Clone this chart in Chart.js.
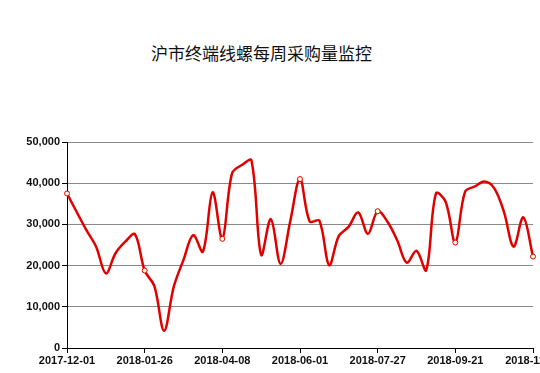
<!DOCTYPE html>
<html>
<head>
<meta charset="utf-8">
<script src="https://cdn.jsdelivr.net/npm/chart.js@4"></script>
<style>
  html, body { margin: 0; padding: 0; background: #fff; overflow: hidden; }
  #wrap { position: relative; width: 540px; height: 373px; overflow: hidden; }
  #title {
    position: absolute; left: 0; top: 42px; width: 523px; text-align: center;
    font: 17px "Noto Sans CJK SC", sans-serif; color: #111; line-height: 22px;
  }
  #myChart { position: absolute; left: 0; top: 0; }
</style>
</head>
<body>
<div id="wrap">
  <div id="title">沪市终端线螺每周采购量监控</div>
  <canvas id="myChart" width="562" height="373"></canvas>
</div>
<script>
// weekly dates (only every 8th one is labelled on the axis)
const weeks = [
  '2017-12-01', '2017-12-08', '2017-12-15', '2017-12-22', '2017-12-29', '2018-01-05', '2018-01-12', '2018-01-19',
  '2018-01-26', '2018-02-02', '2018-02-09', '2018-03-02', '2018-03-09', '2018-03-16', '2018-03-23', '2018-03-30',
  '2018-04-08', '2018-04-13', '2018-04-20', '2018-04-27', '2018-05-04', '2018-05-11', '2018-05-18', '2018-05-25',
  '2018-06-01', '2018-06-08', '2018-06-15', '2018-06-22', '2018-06-29', '2018-07-06', '2018-07-13', '2018-07-20',
  '2018-07-27', '2018-08-03', '2018-08-10', '2018-08-17', '2018-08-24', '2018-08-31', '2018-09-07', '2018-09-14',
  '2018-09-21', '2018-09-28', '2018-10-05', '2018-10-12', '2018-10-19', '2018-10-26', '2018-11-02', '2018-11-09',
  '2018-11-16',
]

// purchase volume per week
const volume = [
  37500, 33000, 28600, 24600, 18100, 23000, 25800, 27600,
  18800, 15000, 4200, 14900, 21400, 27400, 23400, 37800,
  26500, 42400, 44400, 45500, 22600, 31300, 20400, 30800,
  41000, 30700, 30900, 20100, 27200, 29400, 32900, 27700,
  33200, 30700, 26200, 20700, 23600, 18900, 37500, 35500,
  25600, 37900, 39200, 40400, 38800, 33100, 24600, 31700,
  22200,
]

const yTicks = [0, 10000, 20000, 30000, 40000, 50000]
const labelEvery = 8

const tickFont = { family: 'Liberation Sans', size: 11, weight: 'bold' }

const ctx = document.getElementById('myChart')

new Chart(ctx, {
  type: 'line',
  data: {
    labels: weeks,
    datasets: [
      {
        data: volume,
        borderColor: '#e00000',
        borderWidth: 2.5,
        tension: 0.35,
        fill: false,
        clip: false,
        // small hollow markers only on the labelled weeks
        pointRadius: (c) => (c.dataIndex % labelEvery === 0 ? 2.5 : 0),
        pointHoverRadius: 0,
        pointBackgroundColor: '#fffbe0',
        pointBorderColor: '#e00000',
        pointBorderWidth: 1,
      },
    ],
  },
  options: {
    responsive: false,
    animation: false,
    layout: { padding: { top: 142, right: 29, left: 0, bottom: 0 } },
    plugins: {
      legend: { display: false },
      tooltip: { enabled: false },
      title: { display: false },
    },
    scales: {
      x: {
        afterFit: (scale) => { scale.height = 25 },
        border: { color: '#000', width: 1 },
        grid: {
          drawOnChartArea: false,
          drawTicks: true,
          tickLength: 5,
          tickColor: (c) => (c.index % labelEvery === 0 ? '#000' : 'rgba(0,0,0,0)'),
        },
        ticks: {
          autoSkip: false,
          maxRotation: 0,
          minRotation: 0,
          padding: 1,
          color: '#111',
          font: tickFont,
          callback: function (value, index) {
            return index % labelEvery === 0 ? weeks[index] : ''
          },
        },
      },
      y: {
        min: yTicks[0],
        max: yTicks[yTicks.length - 1],
        afterFit: (scale) => { scale.width = 67 },
        border: { color: '#000', width: 1 },
        grid: {
          color: '#8a8a8a',
          lineWidth: 1,
          tickLength: 5,
          tickColor: '#000',
        },
        afterBuildTicks: (scale) => {
          scale.ticks = yTicks.map((v) => ({ value: v }))
        },
        ticks: {
          padding: 2,
          color: '#111',
          font: tickFont,
          callback: (v) => v.toLocaleString('en-US'),
        },
      },
    },
  },
})
</script>
</body>
</html>
